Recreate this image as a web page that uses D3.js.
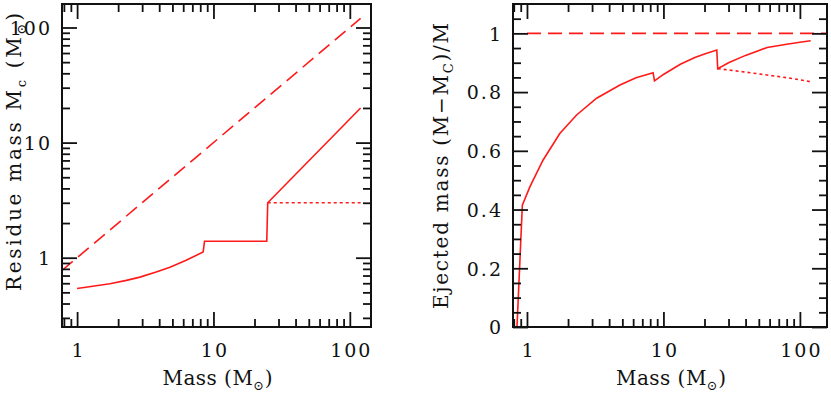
<!DOCTYPE html>
<html><head><meta charset="utf-8">
<script src="https://cdn.jsdelivr.net/npm/d3@7"></script>
<style>html,body{margin:0;padding:0;background:#fff;}svg{display:block;}</style>
</head><body>
<svg id="chart" width="831" height="394"></svg>
<script>
// ---- data ----
const massResidueSolid = [1, 1.3, 1.74, 2.3, 2.89, 3.8, 4.8, 6.3, 8.4, 8.6, 24.6, 25, 120];
const residueSolid     = [0.54, 0.565, 0.594, 0.635, 0.678, 0.75, 0.828, 0.95, 1.12, 1.39, 1.39, 3.0, 20];
const massResidueDot   = [25, 120];
const residueDot       = [3.0, 3.0];
const massResidueDash  = [0.775, 120];
const residueDash      = [0.775, 120];

const massEjectSolid = [0.79, 0.845, 0.925, 1.05, 1.31, 1.74, 2.31, 3.24, 4.8, 6.3, 8.4, 8.6, 10, 13.3, 17, 20, 24.6, 25, 30, 40, 57.6, 80, 100, 120];
const ejectSolid     = [0, 0, 0.415, 0.477, 0.568, 0.659, 0.722, 0.779, 0.824, 0.849, 0.866, 0.838, 0.86, 0.895, 0.918, 0.93, 0.943, 0.88, 0.9, 0.925, 0.952, 0.963, 0.97, 0.975];
const massEjectDot   = [25, 40, 60, 80, 100, 120];
const ejectDot       = [0.88, 0.868, 0.857, 0.849, 0.842, 0.835];
const massEjectDash  = [1, 160];
const ejectDash      = [1, 1];

const xMajorTicks = [1, 10, 100];
const xMinorTicks = [0.8, 0.9, 2, 3, 4, 5, 6, 7, 8, 9, 20, 30, 40, 50, 60, 70, 80, 90];
const yLeftMajorTicks = [1, 10, 100];
const yLeftMinorTicks = [0.3, 0.4, 0.5, 0.6, 0.7, 0.8, 0.9, 2, 3, 4, 5, 6, 7, 8, 9, 20, 30, 40, 50, 60, 70, 80, 90];
const yRightMajorTicks = [0, 0.2, 0.4, 0.6, 0.8, 1];
const yRightMinorTicks = [0.05, 0.1, 0.15, 0.25, 0.3, 0.35, 0.45, 0.5, 0.55, 0.65, 0.7, 0.75, 0.85, 0.9, 0.95, 1.05];

// ---- layout ----
const svg = d3.select("#chart");
const FONT = "'DejaVu Serif', serif";
const RED = "#ff1a1a";
const INK = "#111";
const MAJ = 15, MIN = 8;
const LS = 2; // letter spacing of tick labels

function panel(opts) {
  const {x0, x1, y0, y1, xScale, yScale, id} = opts;
  const g = svg.append("g");
  const clipId = "clip" + id;
  svg.append("defs").append("clipPath").attr("id", clipId)
    .append("rect").attr("x", x0).attr("y", y0).attr("width", x1 - x0).attr("height", y1 - y0);

  const plot = g.append("g").attr("clip-path", `url(#${clipId})`);
  const line = d3.line().x(d => xScale(d[0])).y(d => yScale(d[1]));
  opts.series.forEach(s => {
    plot.append("path").datum(d3.zip(s.x, s.y))
      .attr("d", line).attr("fill", "none").attr("stroke", RED)
      .attr("stroke-width", 1.6).attr("stroke-linejoin", "miter")
      .attr("stroke-dasharray", s.dash || null);
  });

  function axis(gen, transform, values, size, labels) {
    const a = g.append("g").attr("transform", transform)
      .call(gen.tickValues(values).tickSize(-size).tickPadding(0)
        .tickFormat(labels ? d3.format("d") : () => ""));
    a.select(".domain").remove();
    a.selectAll(".tick line").attr("stroke", INK).attr("stroke-width", 1.8);
    return a;
  }
  // bottom
  axis(d3.axisBottom(xScale), `translate(0,${y1})`, xMinorTicks, MIN, false);
  const bx = axis(d3.axisBottom(xScale), `translate(0,${y1})`, xMajorTicks, MAJ, true);
  bx.selectAll(".tick text").attr("y", 30).attr("dy", 0).attr("x", LS / 2)
    .attr("font-family", FONT).attr("font-size", 19).attr("letter-spacing", LS)
    .attr("fill", INK).text(d => d3.format("d")(d));
  // top
  axis(d3.axisTop(xScale), `translate(0,${y0})`, xMinorTicks, MIN, false);
  axis(d3.axisTop(xScale), `translate(0,${y0})`, xMajorTicks, MAJ, false);
  // left
  axis(d3.axisLeft(yScale), `translate(${x0},0)`, opts.yMinor, MIN, false);
  const ly = axis(d3.axisLeft(yScale), `translate(${x0},0)`, opts.yMajor, MAJ, true);
  ly.selectAll(".tick text").attr("x", -12 + LS).attr("dy", "0.36em")
    .attr("font-family", FONT).attr("font-size", 19).attr("letter-spacing", LS)
    .attr("fill", INK).attr("text-anchor", "end")
    .text(opts.yLabel);
  // right
  axis(d3.axisRight(yScale), `translate(${x1},0)`, opts.yMinor, MIN, false);
  axis(d3.axisRight(yScale), `translate(${x1},0)`, opts.yMajor, MAJ, false);

  // frame
  g.append("rect").attr("x", x0).attr("y", y0).attr("width", x1 - x0).attr("height", y1 - y0)
    .attr("fill", "none").attr("stroke", INK).attr("stroke-width", 2);

  // x title
  const xt = g.append("text").attr("x", (x0 + x1) / 2 + 1).attr("y", 385)
    .attr("text-anchor", "middle").attr("font-family", FONT).attr("font-size", 20).attr("fill", INK)
    .attr("textLength", 110).attr("lengthAdjust", "spacing");
  xt.append("tspan").text("Mass (M");
  xt.append("tspan").attr("font-size", 13).attr("dy", 5).text("⊙");
  xt.append("tspan").attr("dy", -5).text(")");

  // y title
  const yt = g.append("text")
    .attr("transform", `translate(${opts.ytX},${opts.ytY}) rotate(-90)`)
    .attr("text-anchor", "middle").attr("font-family", FONT).attr("font-size", 20).attr("fill", INK)
    .attr("textLength", opts.ytLen).attr("lengthAdjust", "spacing");
  opts.yTitle.forEach(p => {
    const t = yt.append("tspan").text(p.t);
    if (p.sub) t.attr("font-size", 13).attr("dy", 5);
    if (p.back) t.attr("dy", -5);
  });
}

const xLeft = d3.scaleLog().domain([0.775, 143]).range([62, 371]);
const yLeft = d3.scaleLog().domain([0.25, 160]).range([327, 4]);
panel({
  id: "L", x0: 62, x1: 371, y0: 4, y1: 327, xScale: xLeft, yScale: yLeft,
  yMajor: yLeftMajorTicks, yMinor: yLeftMinorTicks,
  yLabel: d => d3.format("d")(d),
  ytX: 21, ytY: 152, ytLen: 278,
  yTitle: [{t: "Residue mass M"}, {t: "c", sub: true}, {t: " (M", back: true}, {t: "⊙", sub: true}, {t: ")", back: true}],
  series: [
    {x: massResidueDash, y: residueDash, dash: "14,7"},
    {x: massResidueSolid, y: residueSolid},
    {x: massResidueDot, y: residueDot, dash: "3,3"}
  ]
});

const xRight = d3.scaleLog().domain([0.79, 158]).range([513, 827]);
const yRight = d3.scaleLinear().domain([0, 1.1]).range([327, 4]);
panel({
  id: "R", x0: 513, x1: 827, y0: 4, y1: 327, xScale: xRight, yScale: yRight,
  yMajor: yRightMajorTicks, yMinor: yRightMinorTicks,
  yLabel: d => (d === 0 || d === 1) ? String(d) : d3.format(".1f")(d),
  ytX: 448, ytY: 166, ytLen: 286,
  yTitle: [{t: "Ejected mass (M−M"}, {t: "C", sub: true}, {t: ")/M", back: true}],
  series: [
    {x: massEjectDash, y: ejectDash, dash: "14,7"},
    {x: massEjectSolid, y: ejectSolid},
    {x: massEjectDot, y: ejectDot, dash: "3,3"}
  ]
});
</script>
</body></html>
